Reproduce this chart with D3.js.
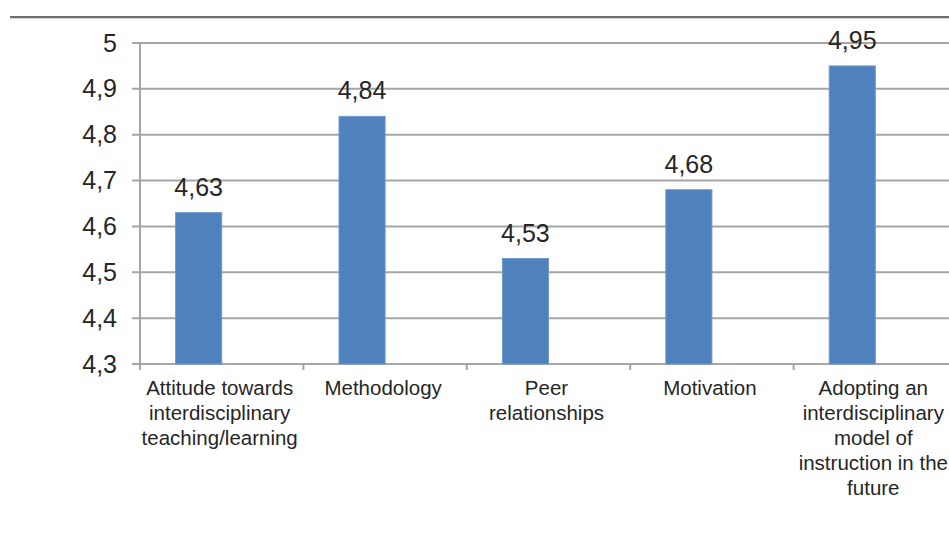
<!DOCTYPE html>
<html>
<head>
<meta charset="utf-8">
<script src="https://cdn.jsdelivr.net/npm/d3@7"></script>
<style>
  html, body { margin: 0; padding: 0; background: #fff; }
  svg { display: block; font-family: "Liberation Sans", Arial, sans-serif; }
</style>
</head>
<body>
<svg id="chart" width="949" height="534"></svg>
<script>
// Mean scores per evaluated dimension
const categories = [
  "Attitude towards\ninterdisciplinary\nteaching/learning",
  "Methodology",
  "Peer\nrelationships",
  "Motivation",
  "Adopting an\ninterdisciplinary\nmodel of\ninstruction in the\nfuture"
];
const scores = [4.63, 4.84, 4.53, 4.68, 4.95];
const yTicks = [4.3, 4.4, 4.5, 4.6, 4.7, 4.8, 4.9, 5];
const seriesSlots = ["mean", "spare"];

const svg = d3.select("#chart");
const margin = { left: 140, top: 43 };
const plotH = 321;
const plotW = 817;

const fmt = v => d3.format(".2~f")(v).replace(".", ",");

// top rule
svg.append("line")
  .attr("x1", 10).attr("x2", 949).attr("y1", 17).attr("y2", 17)
  .attr("stroke", "#6e6e6e").attr("stroke-width", 2);
svg.append("line")
  .attr("x1", 10).attr("x2", 949).attr("y1", 18.5).attr("y2", 18.5)
  .attr("stroke", "#d8d8d8").attr("stroke-width", 1);

const g = svg.append("g").attr("transform", `translate(${margin.left},${margin.top})`);

const x = d3.scaleBand().domain(categories).range([0, plotW])
  .paddingInner(0.436).paddingOuter(0.218);
const xSlot = d3.scaleBand().domain(seriesSlots).range([0, x.bandwidth()]);
const y = d3.scaleLinear().domain([4.3, 5]).range([plotH, 0]);

// gridlines
g.append("g")
  .selectAll("line")
  .data(yTicks)
  .join("line")
  .attr("x1", -8).attr("x2", plotW + 20)
  .attr("y1", d => y(d)).attr("y2", d => y(d))
  .attr("stroke", "#a6a6a6").attr("stroke-width", 2);

// y axis line
g.append("line")
  .attr("x1", 0).attr("x2", 0).attr("y1", 0).attr("y2", plotH + 5)
  .attr("stroke", "#a6a6a6").attr("stroke-width", 2);

// y tick labels
const yAxis = d3.axisLeft(y).tickValues(yTicks).tickFormat(fmt).tickSize(0).tickPadding(23);
const ya = g.append("g").call(yAxis);
ya.select(".domain").remove();
ya.selectAll("text")
  .attr("font-size", 25)
  .attr("fill", "#262626")
  .attr("font-family", "'Liberation Sans', Arial, sans-serif");

// category boundary ticks
const step = x.step();
g.append("g")
  .selectAll("line")
  .data(d3.range(categories.length + 1))
  .join("line")
  .attr("x1", i => i * step).attr("x2", i => i * step)
  .attr("y1", plotH).attr("y2", plotH + 6)
  .attr("stroke", "#a6a6a6").attr("stroke-width", 2);

// bars
g.append("g")
  .selectAll("rect")
  .data(scores)
  .join("rect")
  .attr("x", (d, i) => x(categories[i]) + xSlot("mean"))
  .attr("width", xSlot.bandwidth())
  .attr("y", d => y(d))
  .attr("height", d => plotH - y(d))
  .attr("fill", "#4f81bd")
  .attr("stroke", "#6f98cc")
  .attr("stroke-width", 1);

// value labels
g.append("g")
  .selectAll("text")
  .data(scores)
  .join("text")
  .attr("x", (d, i) => x(categories[i]) + xSlot("mean") + xSlot.bandwidth() / 2)
  .attr("y", d => y(d) - 17)
  .attr("text-anchor", "middle")
  .attr("font-size", 25)
  .attr("fill", "#262626")
  .text(fmt);

// category labels
const catG = g.append("g")
  .selectAll("text")
  .data(categories)
  .join("text")
  .attr("text-anchor", "middle")
  .attr("font-size", 20.5)
  .attr("fill", "#262626")
  .attr("transform", d => `translate(${x(d) + x.bandwidth() / 2 - 2},${plotH + 31})`);
catG.selectAll("tspan")
  .data(d => d.split("\n"))
  .join("tspan")
  .attr("x", 0)
  .attr("dy", (d, i) => i === 0 ? 0 : 25)
  .text(d => d);
</script>
</body>
</html>
